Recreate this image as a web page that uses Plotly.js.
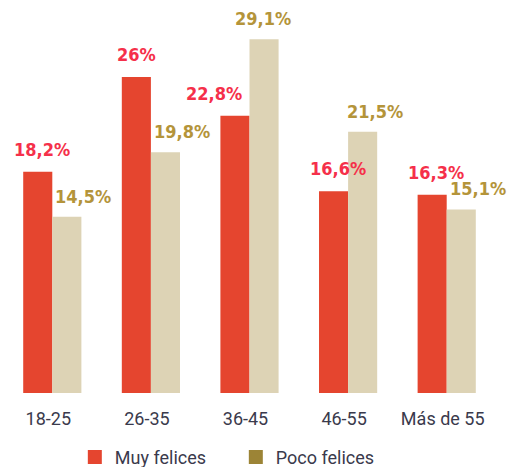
<!DOCTYPE html>
<html>
<head>
<meta charset="utf-8">
<script src="https://cdn.plot.ly/plotly-3.0.1.min.js"></script>
<style>html,body{margin:0;padding:0;background:#fff;}#chart{width:509px;height:467px;}</style>
</head>
<body>
<div id="chart"></div>
<script>
var categories = ["18-25", "26-35", "36-45", "46-55", "Más de 55"];
var muyFelices = [18.2, 26, 22.8, 16.6, 16.3];
var pocoFelices = [14.5, 19.8, 29.1, 21.5, 15.1];
var muyLabels = ["18,2%", "26%", "22,8%", "16,6%", "16,3%"];
var pocoLabels = ["14,5%", "19,8%", "29,1%", "21,5%", "15,1%"];
var seriesNames = ["Muy felices", "Poco felices"];

var RED = "#E5452F", BEIGE = "#DDD3B5", RED_TXT = "#F5304A", GOLD_TXT = "#B4943A", OLIVE = "#9C8436", TXT = "#3a3a4c";
var muyShift = [-10, -14, -36, -10, -11];
var pocoShift = [31, 31, 13, 27, 31];

var traces = [
  {type: "bar", x: categories, y: muyFelices, marker: {color: RED}, showlegend: false, hoverinfo: "none"},
  {type: "bar", x: categories, y: pocoFelices, marker: {color: BEIGE}, showlegend: false, hoverinfo: "none"},
  {type: "scatter", mode: "markers", x: [null], y: [null], name: seriesNames[0], marker: {symbol: "square", size: 14, color: RED}},
  {type: "scatter", mode: "markers", x: [null], y: [null], name: seriesNames[1], marker: {symbol: "square", size: 14, color: OLIVE}}
];

var annotations = [];
var lblFont = {family: "DejaVu Sans Condensed, DejaVu Sans", size: 18, weight: "bold"};
categories.forEach(function (c, i) {
  annotations.push({x: c, y: muyFelices[i], text: muyLabels[i], showarrow: false, xref: "x", yref: "y",
    yanchor: "bottom", xanchor: "center", xshift: muyShift[i], yshift: 10,
    font: Object.assign({color: RED_TXT}, lblFont)});
  annotations.push({x: c, y: pocoFelices[i], text: pocoLabels[i], showarrow: false, xref: "x", yref: "y",
    yanchor: "bottom", xanchor: "center", xshift: pocoShift[i], yshift: 8,
    font: Object.assign({color: GOLD_TXT}, lblFont)});
});

var layout = {
  width: 509, height: 467,
  margin: {l: 3, r: 13, t: 4, b: 74, autoexpand: false},
  paper_bgcolor: "#fff", plot_bgcolor: "#fff",
  barmode: "group", bargap: 0.41, bargroupgap: 0,
  xaxis: {type: "category", range: [-0.5, 4.5], autorange: false, showgrid: false, zeroline: false, showline: false, ticks: "", automargin: false,
    ticklabelstandoff: 13, ticklabelshift: -4,
    tickfont: {family: "Roboto", size: 18, color: TXT}},
  yaxis: {range: [0, 32], autorange: false, visible: false, showgrid: false, zeroline: false, automargin: false},
  showlegend: true,
  legend: {orientation: "h", xref: "container", yref: "container", x: 0.147, xanchor: "left",
    y: 0.021, yanchor: "middle", entrywidth: 116, entrywidthmode: "pixels",
    font: {family: "Roboto", size: 18, color: TXT}},
  annotations: annotations
};

Plotly.newPlot("chart", traces, layout, {displayModeBar: false, staticPlot: true});
</script>
</body>
</html>
